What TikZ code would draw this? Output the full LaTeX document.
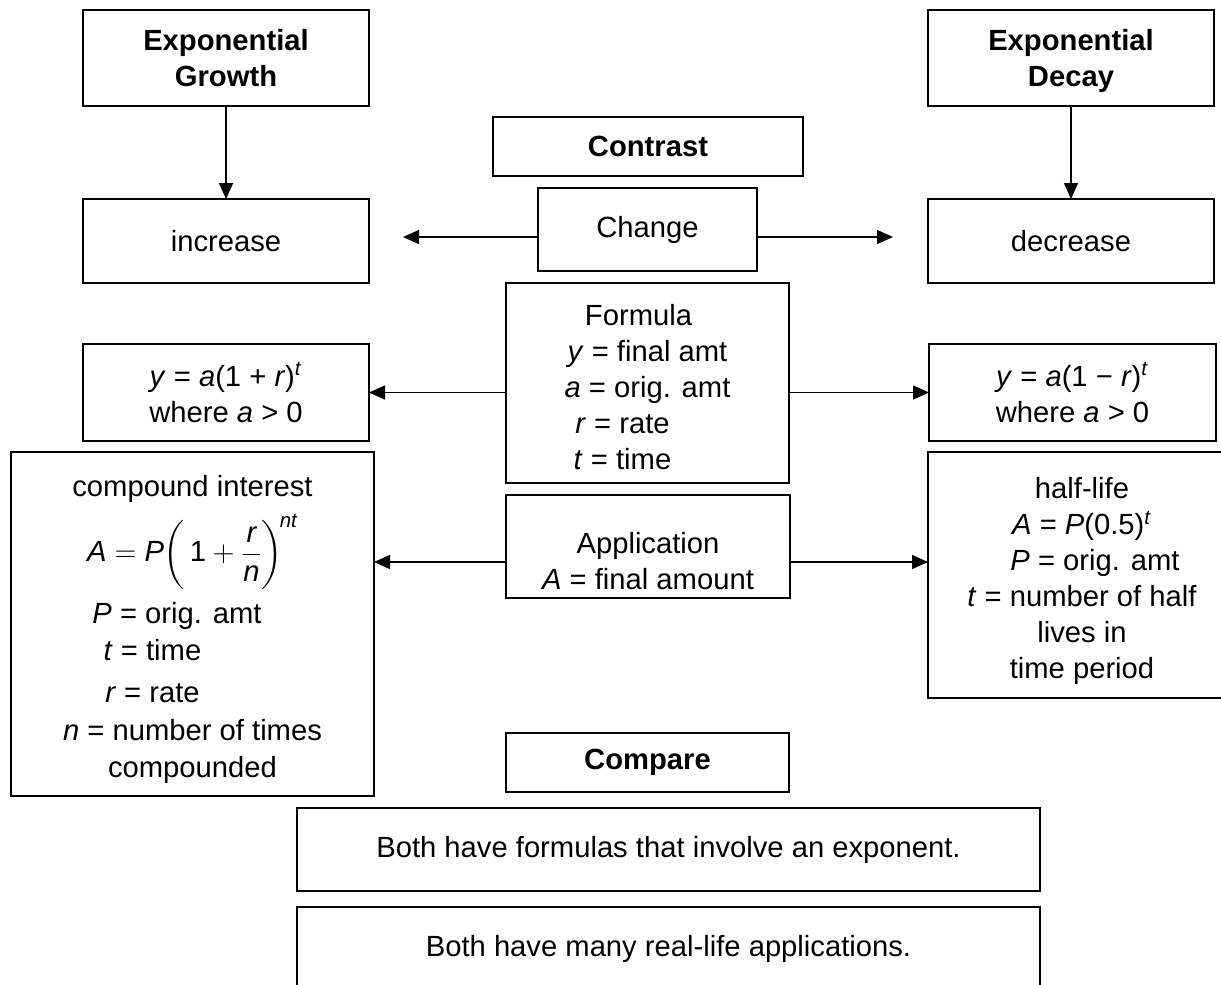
\documentclass[tikz,border=0pt]{standalone}
\usepackage{amsmath}
\usepackage{fontspec}
\setmainfont{Liberation Sans}
\usepackage{tikz}
\usetikzlibrary{arrows.meta}
\definecolor{chartink}{RGB}{0,0,0}
\newcommand{\chartfont}{\fontsize{14.6}{18}\selectfont}
\newcommand{\tailgap}[1]{\rule{#1}{0pt}}
\newcommand{\topgap}[1]{\rule{0pt}{#1}}

\tikzset{
  chartbox/.style={rectangle, draw=chartink, line width=0.9pt, inner sep=0pt, outer sep=0pt, align=center, font=\chartfont},
  charthead/.style={chartbox, font=\chartfont\bfseries},
  chartarrow/.style={-{Triangle[length=8pt,width=7pt]}, line width=0.7pt, draw=chartink, fill=chartink}
}

\begin{document}
\begin{tikzpicture}[x=0.5pt, y=-0.5pt]
\useasboundingbox (0,0) rectangle (1221,985);

% Top headings
\node[charthead, minimum width=143pt, minimum height=48pt] (growth) at (226,58) {Exponential\\Growth};
\node[charthead, minimum width=143pt, minimum height=48pt] (decay) at (1071,58) {Exponential\\\smash[b]{Decay}};

% Contrast part
\node[charthead, minimum width=155pt, minimum height=29.5pt] (contrast) at (648,146.5) {Contrast};
\node[chartbox, minimum width=109.5pt, minimum height=41.5pt] (change) at (647.5,229.5) {Change};
\node[chartbox, minimum width=143pt, minimum height=42pt] (increase) at (226,241) {increase};
\node[chartbox, minimum width=143pt, minimum height=42pt] (decrease) at (1071,241) {decrease};

% Formulas
\node[chartbox, minimum width=141.5pt, minimum height=100pt] (formula) at (647.5,383) {
    \topgap{14.5pt}Formula\tailgap{9pt}\\
    \textit{y} = final amt\\
    \textit{a} = orig. amt\\
    \textit{r} = rate\tailgap{25pt}\\
    \textit{t} = time\tailgap{25pt}
};
\node[chartbox, minimum width=143pt, minimum height=48.5pt] (growthform) at (226,392.5) {
    \textit{y} = \textit{a}(1 + \textit{r})\textsuperscript{\textit{t}}\\
    where \textit{a} > 0
};
\node[chartbox, minimum width=143.5pt, minimum height=48.5pt] (decayform) at (1072.5,392.5) {
    \textit{y} = \textit{a}(1 − \textit{r})\textsuperscript{\textit{t}}\\
    where \textit{a} > 0
};

% Applications
\node[chartbox, minimum width=142pt, minimum height=51.5pt] (application) at (648,546.5) {
    \topgap{25.5pt}Application\\
    \textit{A} = final amount
};
\node[chartbox, minimum width=181.5pt, minimum height=172pt] (compound) at (192.5,624) {
    \topgap{16pt}compound interest\\[5pt]
    $\displaystyle \textit{A} = \textit{P}\biggl(\,\textrm{1} + \frac{\textit{r}}{\textit{n}}\biggr)^{\!\textit{nt}}$\\[5.5pt]
    \textit{P} = orig. amt\tailgap{15.5pt}\\[0.5pt]
    \textit{t} = time\tailgap{40pt}\\[3pt]
    \textit{r} = rate\tailgap{40pt}\\[1pt]
    \textit{n} = number of times\\[0.5pt]
    compounded
};
\node[chartbox, minimum width=154pt, minimum height=123pt] (halflife) at (1082,575) {
    \topgap{16.6pt}half-life\\
    \textit{A} = \textit{P}(0.5)\textsuperscript{\textit{t}}\\
    \hspace*{13pt}\textit{P} = orig. amt\\
    \textit{t} = number of half\\
    lives in\\
    time period
};

% Compare part
\node[charthead, minimum width=141.5pt, minimum height=29.5pt] (compare) at (647.5,762.5) {Compare};
\node[chartbox, minimum width=371.5pt, minimum height=41.5pt] (bothformula) at (668.5,849.5) {Both have formulas that involve an exponent.};
\node[chartbox, minimum width=371.5pt, minimum height=41.5pt] (bothuse) at (668.5,948.5) {Both have many real-life applications.};

% Arrows
\coordinate (changeleft) at (403,237);
\coordinate (changeright) at (893,237);
\coordinate (applevel) at (648,562);
\draw[chartarrow] (growth.south) -- (increase.north);
\draw[chartarrow] (decay.south) -- (decrease.north);
\draw[chartarrow] (change.west |- changeleft) -- (changeleft);
\draw[chartarrow] (change.east |- changeright) -- (changeright);
\draw[chartarrow] (formula.west |- growthform.east) -- (growthform.east);
\draw[chartarrow] (formula.east |- decayform.west) -- (decayform.west);
\draw[chartarrow] (application.west |- applevel) -- (compound.east |- applevel);
\draw[chartarrow] (application.east |- applevel) -- (halflife.west |- applevel);
\end{tikzpicture}
\end{document}
